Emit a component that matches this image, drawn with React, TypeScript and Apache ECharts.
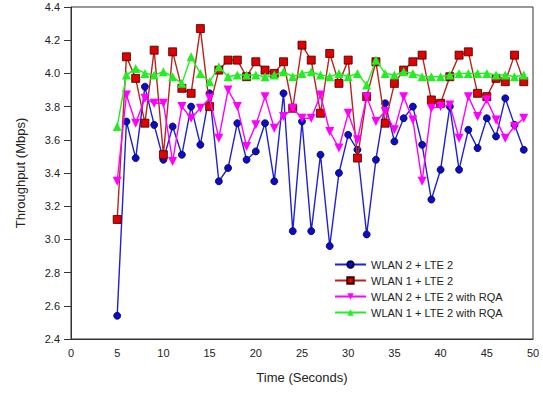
import React, { useEffect, useRef } from "react";
import * as echarts from "echarts";

const seconds = [5, 6, 7, 8, 9, 10, 11, 12, 13, 14, 15, 16, 17, 18, 19, 20, 21, 22, 23, 24, 25, 26, 27, 28, 29, 30, 31, 32, 33, 34, 35, 36, 37, 38, 39, 40, 41, 42, 43, 44, 45, 46, 47, 48, 49];

const wlan2lte2 = [2.54, 3.71, 3.49, 3.92, 3.69, 3.48, 3.68, 3.51, 3.80, 3.57, 3.88, 3.35, 3.43, 3.70, 3.48, 3.53, 3.70, 3.35, 3.88, 3.05, 3.71, 3.05, 3.51, 2.96, 3.40, 3.63, 3.54, 3.03, 3.48, 3.82, 3.59, 3.73, 3.80, 3.57, 3.24, 3.42, 3.80, 3.42, 3.66, 3.55, 3.73, 3.62, 3.85, 3.69, 3.54];

const wlan1lte2 = [3.12, 4.10, 3.97, 3.70, 4.14, 3.51, 4.13, 3.91, 3.88, 4.27, 3.80, 4.02, 4.08, 4.08, 3.98, 4.07, 4.02, 4.00, 4.07, 3.79, 4.17, 4.08, 3.76, 4.12, 3.94, 4.08, 3.49, 3.86, 4.07, 3.70, 3.94, 4.02, 4.07, 4.11, 3.84, 3.82, 3.98, 4.11, 4.13, 3.88, 3.86, 3.97, 3.95, 4.11, 3.95];

const wlan2lte2Rqa = [3.35, 3.87, 3.70, 3.85, 3.82, 3.82, 3.47, 3.80, 3.73, 3.79, 3.85, 3.61, 3.90, 3.80, 3.56, 3.69, 3.86, 3.67, 3.74, 3.79, 3.73, 3.73, 3.87, 3.65, 3.55, 3.76, 3.60, 3.86, 3.71, 3.77, 3.66, 3.86, 3.72, 3.35, 3.79, 3.80, 3.81, 3.61, 3.86, 3.74, 3.84, 3.72, 3.61, 3.68, 3.73];

const wlan1lte2Rqa = [3.68, 3.99, 4.03, 4.00, 3.99, 4.01, 3.98, 3.94, 4.10, 4.00, 3.95, 4.04, 3.98, 3.99, 3.99, 3.99, 3.98, 3.99, 4.01, 3.98, 4.00, 4.01, 3.99, 3.98, 4.00, 3.98, 4.00, 3.93, 4.08, 4.00, 3.99, 4.01, 4.00, 3.98, 3.98, 3.98, 3.99, 4.00, 4.00, 4.00, 4.00, 3.99, 3.99, 3.98, 3.99];

const seriesNames = ["WLAN 2 + LTE 2", "WLAN 1 + LTE 2", "WLAN 2 + LTE 2 with RQA", "WLAN 1 + LTE 2 with RQA"];

const FONT = "Liberation Sans, Arial, sans-serif";

function pairs(values: number[]) {
  return seconds.map((s, i) => [s, values[i]]);
}

export default function App() {
  const ref = useRef<HTMLDivElement>(null);
  useEffect(() => {
    if (!ref.current) return;
    const chart = echarts.init(ref.current, undefined, { renderer: "svg" });
    chart.setOption({
      animation: false,
      backgroundColor: "#ffffff",
      textStyle: { fontFamily: FONT },
      grid: {
        left: 71,
        right: 10,
        top: 7,
        bottom: 57,
        show: true,
        borderColor: "#333",
        borderWidth: 1,
      },
      legend: {
        orient: "vertical",
        left: 329,
        top: 254,
        itemWidth: 31,
        itemHeight: 8,
        itemGap: 5,
        data: seriesNames,
        textStyle: { fontFamily: FONT, fontSize: 11, color: "#222" },
      },
      xAxis: {
        type: "value",
        min: 0,
        max: 50,
        interval: 5,
        name: "Time (Seconds)",
        nameLocation: "middle",
        nameGap: 32,
        nameTextStyle: { fontFamily: FONT, fontSize: 13, color: "#222" },
        axisLine: { show: true, onZero: false, lineStyle: { color: "#333", width: 1 } },
        axisTick: { show: false },
        axisLabel: { fontFamily: FONT, fontSize: 11, color: "#222", margin: 8 },
        splitLine: { show: false },
      },
      yAxis: {
        type: "value",
        min: 2.4,
        max: 4.4,
        interval: 0.2,
        name: "Throughput (Mbps)",
        nameLocation: "middle",
        nameGap: 44,
        nameTextStyle: { fontFamily: FONT, fontSize: 13, color: "#222" },
        axisLine: { show: true, onZero: false, lineStyle: { color: "#333", width: 1 } },
        axisTick: { show: true, inside: false, length: 7, lineStyle: { color: "#333" } },
        axisLabel: {
          fontFamily: FONT,
          fontSize: 11,
          color: "#222",
          margin: 11,
          formatter: (v: number) => v.toFixed(1),
        },
        splitLine: { show: false },
      },
      series: [
        {
          name: seriesNames[0],
          type: "line",
          data: pairs(wlan2lte2),
          symbol: "circle",
          symbolSize: 7,
          lineStyle: { color: "#1f1fd6", width: 1.4 },
          itemStyle: { color: "#0c0cc8", borderColor: "#00004a", borderWidth: 0.8 },
          z: 2,
        },
        {
          name: seriesNames[1],
          type: "line",
          data: pairs(wlan1lte2),
          symbol: "rect",
          symbolSize: 8,
          lineStyle: { color: "#b8231c", width: 1.4 },
          itemStyle: { color: "#e00000", borderColor: "#3a0000", borderWidth: 0.8 },
          z: 3,
        },
        {
          name: seriesNames[2],
          type: "line",
          data: pairs(wlan2lte2Rqa),
          symbol: "triangle",
          symbolRotate: 180,
          symbolSize: 9,
          lineStyle: { color: "#ff00ff", width: 1.4 },
          itemStyle: { color: "#ff00ff", borderWidth: 0 },
          z: 4,
        },
        {
          name: seriesNames[3],
          type: "line",
          data: pairs(wlan1lte2Rqa),
          symbol: "triangle",
          symbolSize: 9,
          lineStyle: { color: "#22ee22", width: 1.4 },
          itemStyle: { color: "#22ee22", borderWidth: 0 },
          z: 5,
        },
      ],
    });
    return () => chart.dispose();
  }, []);
  return <div ref={ref} style={{ width: 543, height: 396, position: "absolute", left: 0, top: 0 }} />;
}
